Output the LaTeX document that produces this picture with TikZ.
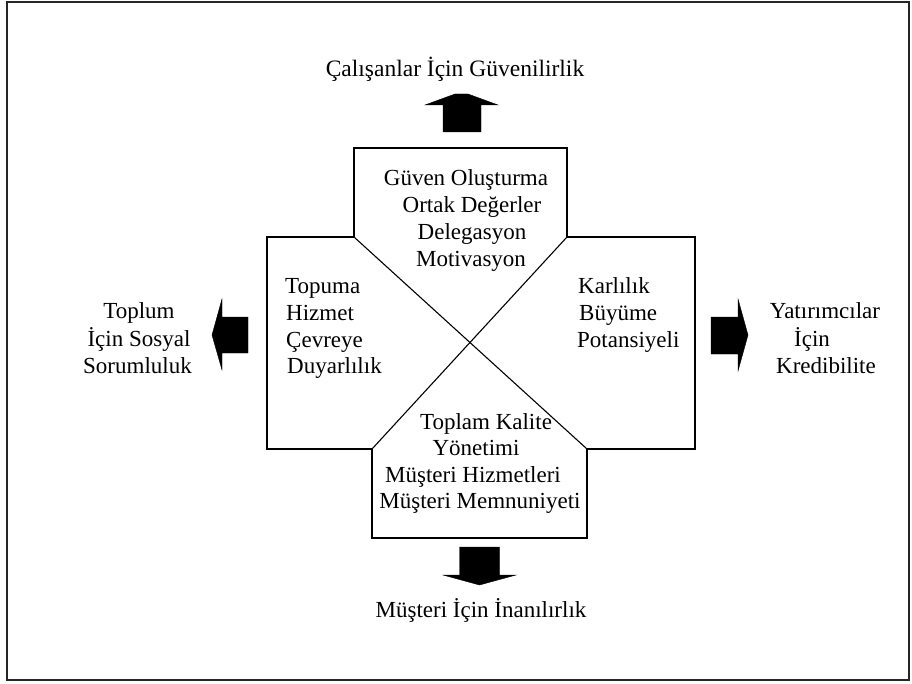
\documentclass[tikz,border=0pt]{standalone}
\usepackage{fontspec}
\setmainfont{Liberation Serif}
\begin{document}
\begin{tikzpicture}[x=1pt,y=-1pt,
  outline/.style={draw=black,line width=1.4pt,line join=miter},
  diag/.style={draw=black,line width=1.1pt},
  frame/.style={draw=black!85,line width=1.6pt},
  blockarrow/.style={fill=black,draw=black,line width=0.4pt,line join=miter},
  lbl/.style={inner sep=0pt,anchor=base,font=\fontsize{23}{27}\selectfont},
  lbll/.style={lbl,anchor=base west}]
\useasboundingbox (0,0) rectangle (912,684);
% outer frame
\draw[frame] (7,2) rectangle (909,680);
% cross-shaped outline
\draw[outline] (354,148) -- (567,148) -- (567,237) -- (695,237) -- (695,449)
  -- (587,449) -- (587,538) -- (372,538) -- (372,449) -- (267,449)
  -- (267,237) -- (354,237) -- cycle;
\coordinate (tl) at (354,237);
\coordinate (tr) at (567,237);
\coordinate (bl) at (372,449);
\coordinate (br) at (587,449);
\draw[diag] (tl) -- (br);
\draw[diag] (tr) -- (bl);
% block arrows
\fill[blockarrow] (443,132) -- (443,105) -- (425,105) -- (455,94) -- (468,94)
  -- (498,105) -- (481,105) -- (481,132) -- cycle;
\fill[blockarrow] (248,317) -- (222,317) -- (222,299) -- (212,335) -- (222,370)
  -- (222,353) -- (248,353) -- cycle;
\fill[blockarrow] (711,317) -- (738,317) -- (738,299) -- (748,335) -- (738,371)
  -- (738,354) -- (711,354) -- cycle;
\fill[blockarrow] (459.5,547) -- (499.5,547) -- (499.5,575) -- (516,575)
  -- (479.5,585) -- (443,575) -- (459.5,575) -- cycle;
% outer labels
\node[lbl,font=\fontsize{23.5}{27}\selectfont] (calisan) at (455,77) {Çalışanlar İçin Güvenilirlik};
\node[lbl] (musteri) at (481,617) {Müşteri İçin İnanılırlık};
\node[lbl] (toplum1) at (139,319) {Toplum};
\node[lbl] (toplum2) at (139,346) {İçin Sosyal};
\node[lbl] (toplum3) at (137.5,373) {Sorumluluk};
\node[lbl] (yatirim1) at (825,319) {Yatırımcılar};
\node[lbl] (yatirim2) at (812,346) {İçin};
\node[lbl] (yatirim3) at (826,373) {Kredibilite};
% top box
\node[lbl] (ust1) at (466,186) {Güven Oluşturma};
\node[lbl] (ust2) at (472,213) {Ortak Değerler};
\node[lbl] (ust3) at (472,240) {Delegasyon};
\node[lbl] (ust4) at (471,267) {Motivasyon};
% left box
\node[lbll] (sol1) at (285,294) {Topuma};
\node[lbll] (sol2) at (286,320.5) {Hizmet};
\node[lbll] (sol3) at (286,347) {Çevreye};
\node[lbll] (sol4) at (287,373.5) {Duyarlılık};
% right box
\node[lbll] (sag1) at (578,294) {Karlılık};
\node[lbll] (sag2) at (579,320.5) {Büyüme};
\node[lbll] (sag3) at (577,347) {Potansiyeli};
% bottom box
\node[lbl] (alt1) at (486,429) {Toplam Kalite};
\node[lbl] (alt2) at (476,455.5) {Yönetimi};
\node[lbl] (alt3) at (473,482) {Müşteri Hizmetleri};
\node[lbl] (alt4) at (480,508.5) {Müşteri Memnuniyeti};
\end{tikzpicture}
\end{document}
